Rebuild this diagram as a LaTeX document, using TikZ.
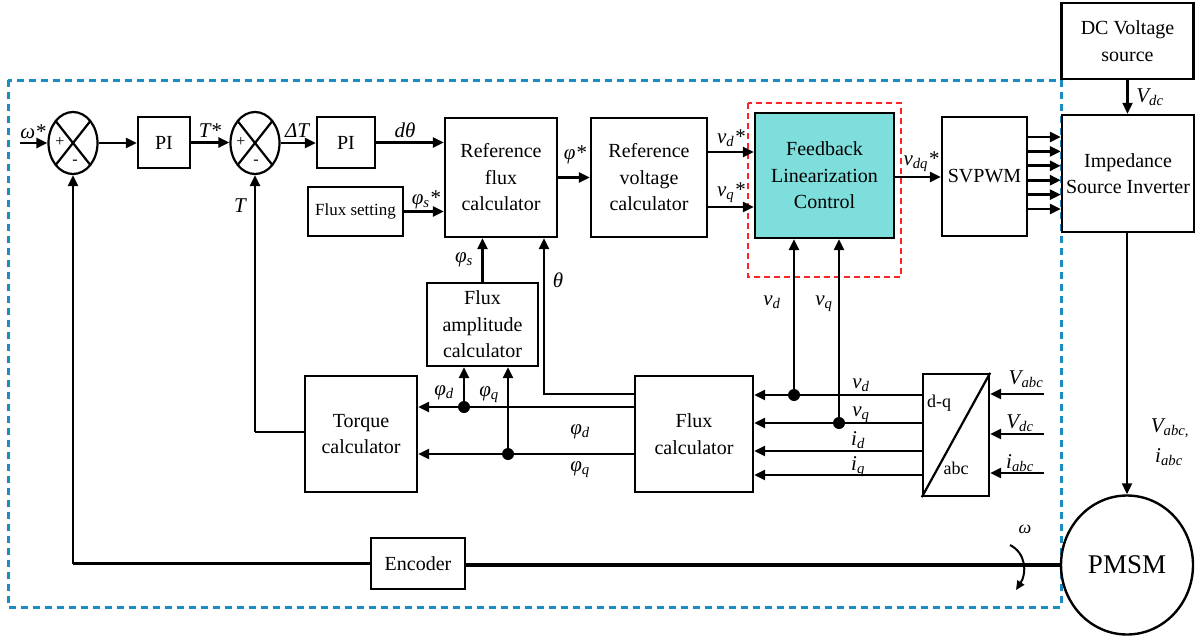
\documentclass[tikz,border=0pt]{standalone}
\usepackage{fontspec}
\setmainfont{Liberation Serif}
\usetikzlibrary{arrows.meta,calc,shapes.geometric}
\newcommand{\sbx}[1]{\textsubscript{#1}}
\definecolor{cyanfill}{HTML}{7EDEDC}
\definecolor{bluedash}{HTML}{1B8DC2}
\definecolor{reddash}{HTML}{FF2424}
\begin{document}
\begin{tikzpicture}[x=1pt,y=-1pt,
  box/.style={draw, fill=white, line width=2.4pt, inner sep=0pt, align=center, font=\fontsize{20}{26.5}\selectfont},
  sumnode/.style={draw, ellipse, line width=2.2pt, minimum width=49pt, minimum height=62pt, inner sep=0pt},
  arr/.style={line width=2.7pt, -{Triangle[length=11pt,width=10pt]}},
  thinarr/.style={line width=2.1pt, -{Triangle[length=11pt,width=10pt]}},
  ln/.style={line width=2.5pt},
  lab/.style={font=\fontsize{21}{24}\selectfont\itshape, inner sep=0pt, anchor=base},
  txt/.style={font=\fontsize{18}{22}\selectfont, inner sep=0pt, anchor=base},
  sgn/.style={font=\fontsize{16}{18}\selectfont, inner sep=0pt},
  dot/.style={circle, fill, inner sep=0pt, minimum size=12pt},
]
\useasboundingbox (0,0) rectangle (1196,640);
% frames
\draw[bluedash, line width=3pt, dash pattern=on 7pt off 5pt] (8,80) rectangle (1061,607);
\draw[reddash, line width=2.6pt, dash pattern=on 6pt off 4pt] (748,103) rectangle (901,277);

% sum junctions
\node[sumnode] (s1) at (73,143) {};
\node[sumnode] (s2) at (255,143) {};
\foreach \s in {s1,s2}{
  \draw[line width=2.2pt] ($(\s.center)+(-17.3,-21.9)$) -- ($(\s.center)+(17.3,21.9)$);
  \draw[line width=2.2pt] ($(\s.center)+(-17.3,21.9)$) -- ($(\s.center)+(17.3,-21.9)$);
}
\node[sgn] at (60,142) {+};
\node[sgn] at (75,162) {-};
\node[sgn] at (241,142) {+};
\node[sgn] at (256,162) {-};

% boxes
\node[box, minimum width=52pt, minimum height=51pt] (pi1) at (164,142.5) {PI};
\node[box, minimum width=58pt, minimum height=51pt] (pi2) at (346,142.5) {PI};
\node[box, minimum width=95pt, minimum height=49pt, font=\fontsize{17}{20}\selectfont] (fs) at (355.5,211.5) {Flux setting};
\node[box, minimum width=112pt, minimum height=119pt] (rf) at (501,177.5) {Reference\\flux\\calculator};
\node[box, minimum width=116pt, minimum height=119pt] (rv) at (649,177.5) {Reference\\voltage\\calculator};
\node[box, fill=cyanfill, minimum width=139pt, minimum height=125pt] (flc) at (824.5,175.5) {Feedback\\Linearization\\Control};
\node[box, minimum width=85pt, minimum height=119pt] (sv) at (984.5,176.5) {SVPWM};
\node[box, minimum width=132pt, minimum height=117pt] (isi) at (1128,173.5) {Impedance\\Source Inverter};
\node[box, minimum width=132pt, minimum height=76pt] (dc) at (1127.5,41) {DC Voltage\\source};
\node[box, minimum width=111pt, minimum height=83pt] (fa) at (482.5,324.5) {Flux\\amplitude\\calculator};
\node[box, minimum width=112pt, minimum height=116pt] (tq) at (361,434) {Torque\\calculator};
\node[box, minimum width=118pt, minimum height=116pt] (fc) at (694,434) {Flux\\calculator};
\node[box, minimum width=66pt, minimum height=122pt] (dq) at (956,435) {};
\node[box, minimum width=94pt, minimum height=51pt] (enc) at (418,563.5) {Encoder};
\node[draw, ellipse, fill=white, line width=2.4pt, minimum width=132pt, minimum height=139pt, inner sep=0pt, font=\fontsize{27}{30}\selectfont] (pm) at (1127,565) {PMSM};

% dq transform box content
\draw[line width=2.2pt] (dq.south west) -- (dq.north east);
\node[txt] at (939,407) {d-q};
\node[txt] at (956,474) {abc};

% top row connectors
\coordinate (win) at (20,143);
\draw[arr] (win) -- (s1.west);
\draw[arr] (s1.east) -- (s1.east -| pi1.west);
\draw[arr] (pi1.east) -- (pi1.east -| s2.west);
\draw[arr] (s2.east) -- (s2.east -| pi2.west);
\draw[arr] (pi2.east) -- (pi2.east -| rf.west);
\draw[arr] (fs.east) -- (fs.east -| rf.west);
\draw[arr] (rf.east) -- (rf.east -| rv.west);
\draw[arr] ([yshift=25.5pt]rv.east) -- ([yshift=25.5pt]rv.east -| flc.west);
\draw[arr] ([yshift=-29.5pt]rv.east) -- ([yshift=-29.5pt]rv.east -| flc.west);
\draw[arr] ([yshift=-1.5pt]flc.east) -- ([yshift=-1.5pt]flc.east -| sv.west);
\foreach \o in {39.5,25.1,10.7,-3.7,-18.1,-32.5}
  \draw[arr] ([yshift=\o pt]sv.east) -- ([yshift=\o pt]sv.east -| isi.west);
\draw[thinarr] (dc.south) -- (dc.south |- isi.north);
\draw[thinarr] (isi.south -| pm.north) -- (pm.north);

% top labels
\node[lab] at (33,138) {ω*};
\node[lab] at (210,137) {T*};
\node[lab] at (297,137) {ΔT};
\node[lab] at (405,137) {dθ};
\node[lab] at (240,212) {T};
\node[lab] at (426,204) {φ\sbx{s}*};
\node[lab] at (575,159) {φ*};
\node[lab] at (731,143) {v\sbx{d}*};
\node[lab] at (731,196) {v\sbx{q}*};
\node[lab] at (921,165) {v\sbx{dq}*};
\node[lab] at (1150,102) {V\sbx{dc}};

% feedback paths
\coordinate (fb) at (73,565);
\draw[line width=3.6pt] (enc.west) -- (enc.west -| fb);
\draw[thinarr] (enc.west -| fb) -- (s1.south);
\draw[line width=3.6pt] (pm.west) -- (pm.west -| enc.east);
\coordinate (tb) at (255,432);
\draw[ln] (tq.west |- tb) -- (tb);
\draw[arr] (tb) -- (s2.south);

% omega rotation
\draw[line width=2pt, -{Triangle[length=9pt,width=8pt]}] (1010,545) .. controls (1026,553) and (1027,573) .. (1016,590);
\node[lab, font=\fontsize{18}{20}\selectfont\itshape] at (1025,533) {ω};

% flux calculator outputs
\node[dot] (d1) at (464,407) {};
\node[dot] (d2) at (508,454) {};
\coordinate (th) at (544,394);
\draw[arr] (fc.west |- d1) -- (tq.east |- d1);
\draw[arr] (fc.west |- d2) -- (tq.east |- d2);
\draw[arr] (d1.center) -- (d1 |- fa.south);
\draw[arr] (d2.center) -- (d2 |- fa.south);
\draw[arr] (fc.west |- th) -- (th) -- (th |- rf.south);
\draw[arr] (fa.north) -- (fa.north |- rf.south);

\node[lab] at (464,262) {φ\sbx{s}};
\node[lab] at (558,287) {θ};
\node[lab] at (444,395) {φ\sbx{d}};
\node[lab] at (489,396) {φ\sbx{q}};
\node[lab] at (580,434) {φ\sbx{d}};
\node[lab] at (580,471) {φ\sbx{q}};

% dq outputs
\foreach \o in {40,12,-16,-40}
  \draw[arr] ([yshift=\o pt]dq.west) -- ([yshift=\o pt]dq.west -| fc.east);
\node[dot] (d3) at (794,395) {};
\node[dot] (d4) at (839,423) {};
\draw[arr] (d3.center) -- (d3 |- flc.south);
\draw[arr] (d4.center) -- (d4 |- flc.south);
\node[lab] at (772,305) {v\sbx{d}};
\node[lab] at (824,305) {v\sbx{q}};
\node[lab] at (861,388) {v\sbx{d}};
\node[lab] at (861,416) {v\sbx{q}};
\node[lab] at (858,445) {i\sbx{d}};
\node[lab] at (858,470) {i\sbx{q}};

% dq inputs
\coordinate (in1) at (1044,394);
\coordinate (in2) at (1044,434);
\coordinate (in3) at (1044,473);
\draw[arr] (in1) -- (in1 -| dq.east);
\draw[arr] (in2) -- (in2 -| dq.east);
\draw[arr] (in3) -- (in3 -| dq.east);
\node[lab] at (1026,384) {V\sbx{abc}};
\node[lab] at (1020,428) {V\sbx{dc}};
\node[lab] at (1020,468) {i\sbx{abc}};

% inverter output labels
\node[lab] at (1170,432) {V\sbx{abc,}};
\node[lab] at (1169,462) {i\sbx{abc}};
\end{tikzpicture}
\end{document}
